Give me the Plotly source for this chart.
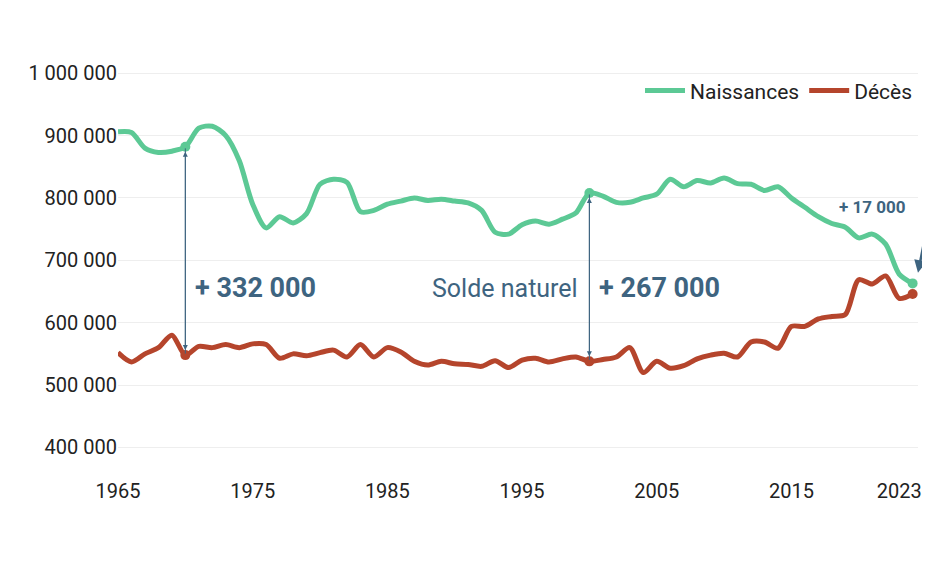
import plotly.graph_objects as go

years = list(range(1965, 2025))
naissances = [906, 905, 880, 873, 875, 882, 912, 915, 900, 860, 790, 752, 770, 760, 775, 822,
              830, 825, 778, 780, 790, 795, 800, 796, 798, 795, 792, 780, 745, 742,
              757, 763, 758, 766, 776, 808, 803, 793, 793, 800, 806, 830, 818, 828, 824,
              832, 823, 822, 812, 818, 800, 785, 770, 759, 753, 736, 742, 726, 678, 663]
deces = [552, 537, 550, 560, 580, 548, 562, 560, 565, 560, 566, 565, 543, 550, 547, 552,
         556, 545, 565, 545, 560, 553, 538, 532, 538, 534, 533, 530, 539, 528,
         540, 543, 537, 542, 545, 538, 541, 545, 560, 520, 538, 527, 531, 542, 548,
         551, 545, 569, 569, 559, 594, 594, 606, 610, 613, 669, 662, 675, 639, 646]
naissances = [v * 1000 for v in naissances]
deces = [v * 1000 for v in deces]
marked = [1970, 2000, 2024]

green = "#5cc995"
red = "#b5452c"
blue = "#3e6480"
font = "Liberation Sans Narrow, Roboto, sans-serif"

fig = go.Figure()
fig.add_trace(go.Scatter(x=years, y=naissances, name="Naissances", mode="lines",
                         line=dict(color=green, width=5, shape="spline", smoothing=0.8)))
fig.add_trace(go.Scatter(x=years, y=deces, name="Décès", mode="lines",
                         line=dict(color=red, width=5, shape="spline", smoothing=0.8)))
for ser, col in [(naissances, green), (deces, red)]:
    fig.add_trace(go.Scatter(x=marked, y=[ser[years.index(y)] for y in marked], mode="markers",
                             marker=dict(color=col, size=10), showlegend=False, hoverinfo="skip"))

# double arrows for the gap
for yr in [1970, 2000]:
    i = years.index(yr)
    for a, b in [(naissances[i], deces[i]), (deces[i], naissances[i])]:
        fig.add_annotation(x=yr, y=b, ax=yr, ay=a, xref="x", yref="y", axref="x", ayref="y",
                           showarrow=True, arrowhead=2, arrowsize=1, arrowwidth=1,
                           arrowcolor=blue, text="", standoff=5, startstandoff=0)

fig.add_annotation(x=1970.6, y=655000, text="<b>+ 332 000</b>", showarrow=False, xanchor="left",
                   font=dict(family=font, size=27, color=blue))
fig.add_annotation(x=1999.3, y=655000, text="Solde naturel", showarrow=False, xanchor="right",
                   font=dict(family=font, size=25, color=blue))
fig.add_annotation(x=2000.6, y=655000, text="<b>+ 267 000</b>", showarrow=False, xanchor="left",
                   font=dict(family=font, size=27, color=blue))
fig.add_annotation(x=2021, y=785000, text="<b>+ 17 000</b>", showarrow=False,
                   font=dict(family=font, size=17, color=blue))
fig.add_annotation(x=2024.4, y=680000, ax=2024.9, ay=735000, xref="x", yref="y", axref="x", ayref="y",
                   showarrow=True, arrowhead=2, arrowwidth=2.5, arrowcolor=blue, text="")

fig.update_layout(
    width=930, height=569, plot_bgcolor="white", paper_bgcolor="white",
    margin=dict(l=110, r=20, t=59, b=114),
    font=dict(family=font, size=20, color="#222"),
    legend=dict(orientation="h", x=1, xanchor="right", y=0.94, yanchor="middle",
                font=dict(size=21), itemwidth=40, bgcolor="rgba(0,0,0,0)"),
    xaxis=dict(range=[1965, 2024.4], tickvals=[1965, 1975, 1985, 1995, 2005, 2015, 2023],
               showgrid=False, zeroline=False, ticks="", ticklabelstandoff=14),
    yaxis=dict(range=[375000, 1010000], tickvals=list(range(400000, 1000001, 100000)),
               ticktext=["400 000", "500 000", "600 000", "700 000", "800 000", "900 000", "1 000 000"],
               gridcolor="#eeeeee", zeroline=False, ticks=""),
)
fig.write_html("out.html")
